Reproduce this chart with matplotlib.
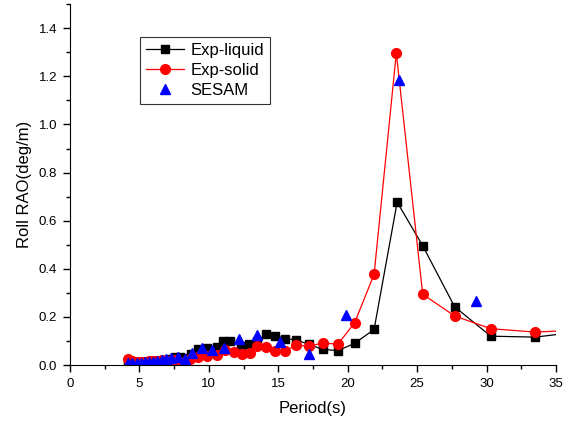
import matplotlib
matplotlib.use("Agg")
import matplotlib.pyplot as plt
from matplotlib.ticker import MultipleLocator

plt.rcParams['font.family'] = ['Liberation Sans', 'DejaVu Sans']

# Roll RAO data: period (s) and response (deg/m)
liquid_period = [4.2, 4.5, 4.8, 5.1, 5.4, 5.7, 6.0, 6.3, 6.6, 6.9, 7.2, 7.56, 7.9, 8.3,
                 8.7, 9.25, 9.85, 10.6, 11.05, 11.5, 12.3, 12.9, 13.5, 14.1, 14.8, 15.5,
                 16.3, 17.2, 18.2, 19.3, 20.5, 21.9, 23.56, 25.4, 27.7, 30.3, 33.5, 36.5]
liquid_rao = [0.012, 0.012, 0.012, 0.013, 0.013, 0.014, 0.015, 0.016, 0.018, 0.02, 0.025,
              0.035, 0.035, 0.03, 0.045, 0.066, 0.069, 0.076, 0.101, 0.101, 0.079, 0.086,
              0.1, 0.127, 0.122, 0.11, 0.104, 0.086, 0.065, 0.06, 0.09, 0.148, 0.677,
              0.496, 0.242, 0.12, 0.116, 0.137]

solid_period = [4.2, 4.5, 4.8, 5.1, 5.4, 5.7, 6.0, 6.3, 6.6, 6.9, 7.2, 7.6, 8.2, 8.65,
                9.25, 9.85, 10.6, 11.2, 11.8, 12.4, 13.0, 13.5, 14.1, 14.8, 15.5, 16.3,
                17.2, 18.2, 19.3, 20.5, 21.9, 23.5, 25.4, 27.7, 30.3, 33.5, 36.5]
solid_rao = [0.024, 0.018, 0.014, 0.014, 0.014, 0.015, 0.016, 0.018, 0.02, 0.018, 0.016,
             0.021, 0.012, 0.023, 0.035, 0.037, 0.042, 0.062, 0.055, 0.044, 0.051, 0.079,
             0.076, 0.06, 0.06, 0.082, 0.079, 0.091, 0.087, 0.176, 0.377, 1.297, 0.294,
             0.204, 0.151, 0.137, 0.145]

sesam_period = [4.2, 4.5, 4.8, 5.1, 5.4, 5.7, 6.0, 6.3, 6.6, 6.9, 7.3, 7.8, 8.3, 8.8,
                9.5, 10.2, 11.1, 12.2, 13.45, 15.1, 17.2, 19.9, 23.7, 29.2]
sesam_rao = [0.01, 0.01, 0.01, 0.01, 0.011, 0.012, 0.014, 0.016, 0.021, 0.024, 0.028,
             0.035, 0.023, 0.051, 0.072, 0.062, 0.069, 0.107, 0.124, 0.097, 0.046,
             0.206, 1.184, 0.265]

fig = plt.figure(figsize=(5.68, 4.22), dpi=100)
ax = fig.add_axes([0.123, 0.135, 0.856, 0.855])

ax.plot(liquid_period, liquid_rao, color='black', lw=0.9, marker='s', ms=6,
        label='Exp-liquid')
ax.plot(solid_period, solid_rao, color='red', lw=0.9, marker='o', ms=7,
        label='Exp-solid')
ax.plot(sesam_period, sesam_rao, ls='none', color='blue', marker='^', ms=7.5,
        label='SESAM')

ax.set_xlim(0, 35)
ax.set_ylim(0, 1.5)
ax.xaxis.set_major_locator(MultipleLocator(5))
ax.xaxis.set_minor_locator(MultipleLocator(2.5))
ax.yaxis.set_minor_locator(MultipleLocator(0.1))
ax.set_yticks([0, 0.2, 0.4, 0.6, 0.8, 1.0, 1.2, 1.4])
ax.set_yticklabels(['0.0', '0.2', '0.4', '0.6', '0.8', '1.0', '1.2', '1.4'])

ax.spines['top'].set_visible(False)
ax.spines['right'].set_visible(False)
ax.tick_params(which='major', direction='out', length=5, width=1, labelsize=9.5, pad=4)
ax.tick_params(which='minor', direction='out', length=3, width=1)

ax.set_xlabel('Period(s)', fontsize=12, labelpad=8)
ax.set_ylabel('Roll RAO(deg/m)', fontsize=12, labelpad=5)

leg = ax.legend(loc='upper left', bbox_to_anchor=(0.144, 0.909), fontsize=12,
                frameon=True, fancybox=False, edgecolor='black', handlelength=2.3,
                borderpad=0.35, labelspacing=0.3, handletextpad=0.4, borderaxespad=0)
leg.get_frame().set_linewidth(0.8)

fig.savefig('out.png', dpi=100)
